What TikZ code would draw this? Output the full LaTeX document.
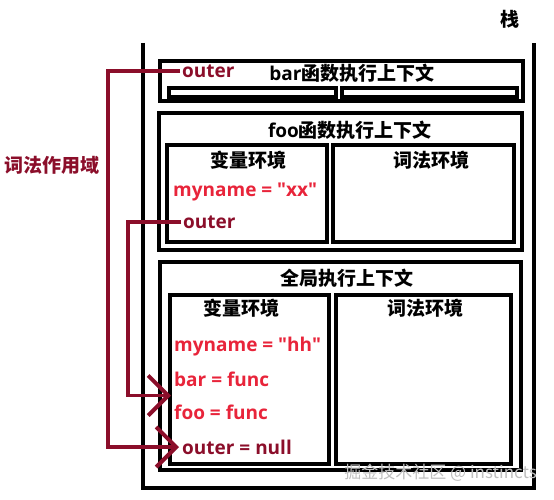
\documentclass[tikz,border=0pt]{standalone}
\usepackage{fontspec}
\setmainfont{Open Sans}
\newfontfamily\cjk{Noto Sans CJK SC}
\usetikzlibrary{arrows.meta,fit,calc}
\definecolor{darkredx}{RGB}{139,14,42}
\definecolor{brightredx}{RGB}{232,36,58}
\begin{document}
\begin{tikzpicture}[x=1pt,y=-1pt,
  frame/.style={draw=black, line width=3.5pt, inner sep=0pt},
  ttl/.style={font=\fontsize{19}{22}\selectfont\bfseries, inner sep=0pt},
  var/.style={font=\fontsize{19}{22}\selectfont\bfseries, text=brightredx, anchor=west, inner sep=0pt},
  ptr/.style={var, text=darkredx},
  link/.style={draw=darkredx, line width=3.8pt, shorten <=2pt, -{Straight Barb[length=20pt,width=40pt,line width=4pt]}},
  ]
\useasboundingbox (0,0) rectangle (554,500);

% stack
\coordinate (stl) at (143,43);
\coordinate (sbl) at (143,488);
\coordinate (sbr) at (534,488);
\coordinate (str) at (534,43);
\draw[line width=3.5pt] (stl) -- (sbl) -- (sbr) -- (str);
\node[ttl, font=\cjk\fontsize{19}{22}\selectfont\bfseries] (stack) at (510,19) {栈};

% bar context
\node[frame, fit={(160,61) (523,101)}] (bar) {};
\node[frame, fit={(169,88) (336,97)}] (barvar) {};
\node[frame, fit={(342,88) (517,97)}] (barlex) {};
\node[ttl] (bartitle) at (352,73) {bar{\cjk 函数执行上下文}};
\node[ptr] (bout) at (182,71) {outer};

% foo context
\node[frame, fit={(159,113) (522,250)}] (foo) {};
\node[frame, fit={(167,145) (327,242)}] (foovar) {};
\node[frame, fit={(333,145) (514,242)}] (foolex) {};
\node[ttl] (footitle) at (350,130) {foo{\cjk 函数执行上下文}};
\node[ttl] (foovart) at (248,160) {\cjk 变量环境};
\node[ttl] (foolext) at (431,160) {\cjk 词法环境};
\node[var] (fname) at (173,192) {myname = \textquotedbl xx\textquotedbl};
\node[ptr] (fout) at (183,222) {outer};

% global context
\node[frame, fit={(160,262) (521,470)}] (glob) {};
\node[frame, fit={(170,295) (329,464)}] (gvar) {};
\node[frame, fit={(336,295) (511,464)}] (glex) {};
\node[ttl] (gtitle) at (347,278) {\cjk 全局执行上下文};
\node[ttl] (gvart) at (241,308) {\cjk 变量环境};
\node[ttl] (glext) at (425,308) {\cjk 词法环境};
\node[var] (gname) at (174,347) {myname = \textquotedbl hh\textquotedbl};
\node[var] (gbar) at (174,379) {bar = func};
\node[var] (gfoo) at (174,412) {foo = func};
\node[ptr] (gnull) at (182,447) {outer = null};

% lexical scope label
\node[ttl, text=darkredx] (scope) at (52,165) {\cjk 词法作用域};

% links
\coordinate (l1) at (108,0);
\coordinate (l2) at (128,0);
\coordinate (mid) at ($(gbar.west)!0.5!(gfoo.west)$);
\draw[link] (bout.west) -- (bout.west -| l1) -- (l1 |- gnull.west) -- ([xshift=-3pt]gnull.west);
\draw[link] (fout.west) -- (fout.west -| l2) -- (l2 |- mid) -- ([xshift=-3pt]mid);

% watermark
\node[anchor=east, font=\cjk\fontsize{17}{20}\selectfont, text=gray!50, inner sep=0pt] (wm) at (537,473) {掘金技术社区 @ instincts};
\end{tikzpicture}
\end{document}
